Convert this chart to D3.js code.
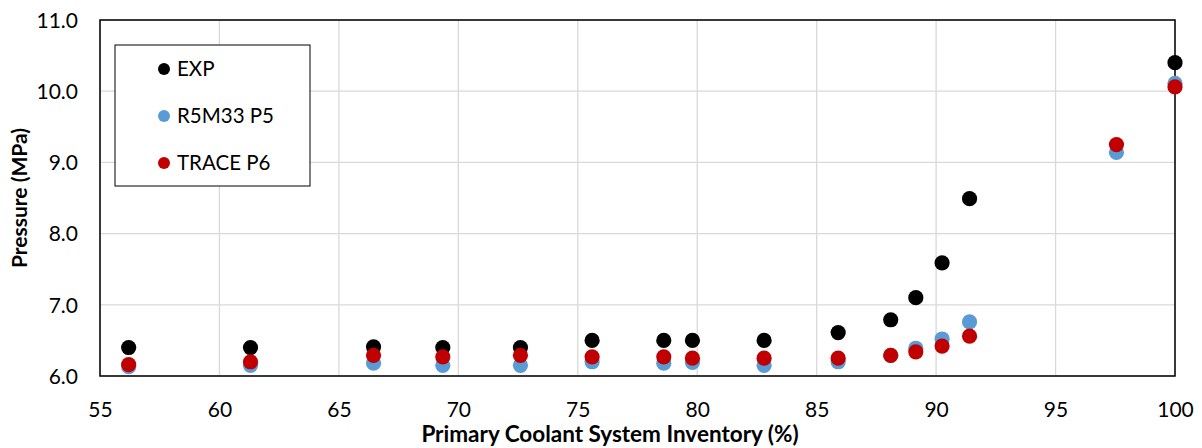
<!DOCTYPE html>
<html><head><meta charset="utf-8">
<script src="https://cdn.jsdelivr.net/npm/d3@7"></script>
<style>body{margin:0;background:#fff}svg{display:block}text{font-family:Lato,"Open Sans",sans-serif}</style>
</head><body><svg id="c" width="1202" height="448"></svg>
<script>
const expX = [56.2,61.3,66.45,69.35,72.6,75.6,78.6,79.8,82.8,85.9,88.1,89.15,90.25,91.4,100];
const expY = [6.40,6.40,6.41,6.40,6.40,6.50,6.50,6.50,6.50,6.61,6.79,7.10,7.59,8.49,10.40];
const simX = [56.2,61.3,66.45,69.35,72.6,75.6,78.6,79.8,82.8,85.9,88.1,89.15,90.25,91.4,97.55,100];
const r5Y = [6.13,6.15,6.18,6.15,6.15,6.20,6.18,6.19,6.15,6.20,6.29,6.39,6.52,6.76,9.14,10.11];
const trY = [6.16,6.20,6.29,6.27,6.29,6.27,6.27,6.25,6.25,6.25,6.29,6.34,6.42,6.56,9.25,10.06];
const xTicks = [55,60,65,70,75,80,85,90,95,100];
const yTicks = [6,7,8,9,10,11];
const seriesNames = ["EXP","R5M33 P5","TRACE P6"];
const colors = ["#000000","#5b9bd5","#c00000"];

const svg = d3.select("#c");
const L=100,R=1175,T=20,B=376;
const x = d3.scaleLinear().domain([55,100]).range([L,R]);
const y = d3.scaleLinear().domain([6,11]).range([B,T]);

const g = svg.append("g");
g.selectAll(".gx").data(xTicks).join("line").attr("x1",d=>x(d)).attr("x2",d=>x(d)).attr("y1",T).attr("y2",B).attr("stroke","#d9d9d9").attr("stroke-width",1.3);
g.selectAll(".gy").data(yTicks).join("line").attr("y1",d=>y(d)).attr("y2",d=>y(d)).attr("x1",L).attr("x2",R).attr("stroke","#d9d9d9").attr("stroke-width",1.3);
g.append("rect").attr("x",L).attr("y",T).attr("width",R-L).attr("height",B-T).attr("fill","none").attr("stroke","#000").attr("stroke-width",1.5);

const xa = svg.append("g").attr("transform",`translate(0,${B})`).call(d3.axisBottom(x).tickValues(xTicks).tickSize(0).tickPadding(26).tickFormat(d3.format("d")));
xa.select(".domain").remove();
xa.selectAll("text").attr("font-size",21).attr("fill","#000").style("font-family","Lato");
const ya = svg.append("g").attr("transform",`translate(${L},0)`).call(d3.axisLeft(y).tickValues(yTicks).tickSize(0).tickPadding(22).tickFormat(d3.format(".1f")));
ya.select(".domain").remove();
ya.selectAll("text").attr("font-size",21).attr("fill","#000").attr("dy","0.35em").style("font-family","Lato");

const sets = [[expX,expY],[simX,r5Y],[simX,trY]];
sets.forEach(([xs,ys],i)=>{
  svg.append("g").selectAll("circle").data(xs.map((v,j)=>[v,ys[j]])).join("circle")
    .attr("cx",d=>x(d[0])).attr("cy",d=>y(d[1])).attr("r",7.6).attr("fill",colors[i]);
});

const lg = svg.append("g");
lg.append("rect").attr("x",115).attr("y",45).attr("width",195).attr("height",141).attr("fill","#fff").attr("stroke","#000").attr("stroke-width",1);
seriesNames.forEach((n,i)=>{
  const cy = 69 + i*47;
  lg.append("circle").attr("cx",164).attr("cy",cy).attr("r",6).attr("fill",colors[i]);
  lg.append("text").attr("x",177).attr("y",cy).attr("dy","0.36em").attr("font-size",20.5).text(n);
});

svg.append("text").attr("x",(422+798)/2).attr("y",442).attr("text-anchor","middle").attr("font-size",22.5).attr("font-weight","bold").text("Primary Coolant System Inventory (%)");
svg.append("text").attr("transform",`translate(27,198) rotate(-90)`).attr("text-anchor","middle").attr("font-size",21).attr("font-weight","bold").text("Pressure (MPa)");
</script></body></html>
